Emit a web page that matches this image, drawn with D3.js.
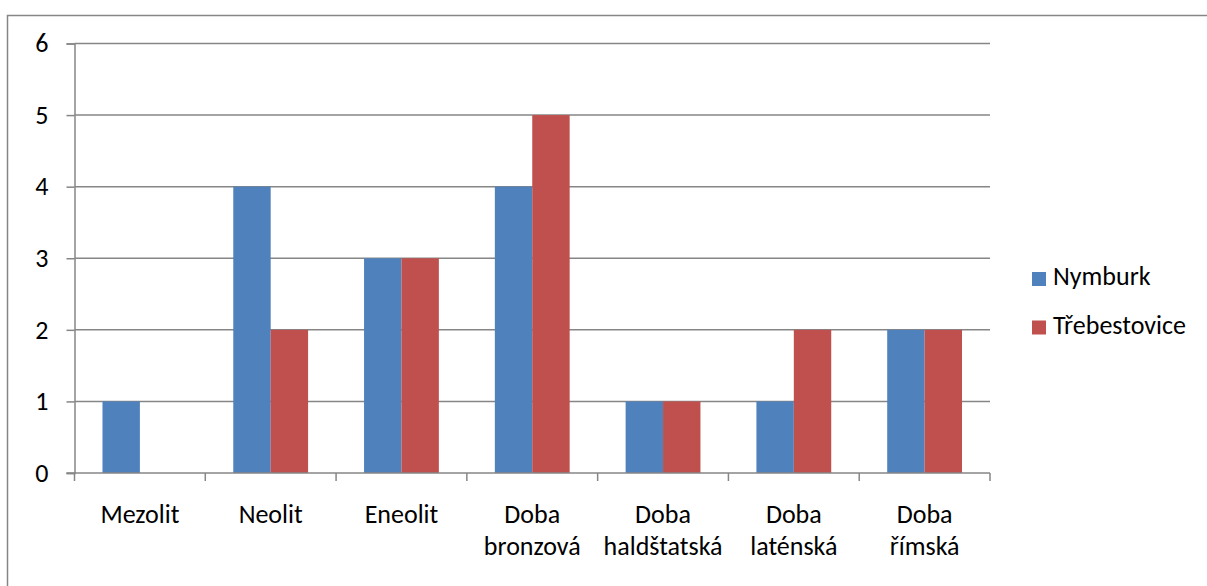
<!DOCTYPE html>
<html>
<head>
<meta charset="utf-8">
<script src="https://cdn.jsdelivr.net/npm/d3@7"></script>
<style>
  html, body { margin: 0; padding: 0; background: #fff; }
  svg { display: block; }
  text { font-family: Carlito, Calibri, Lato, "Liberation Sans", sans-serif; font-weight: 300; fill: #000; }
</style>
</head>
<body>
<svg id="chart" width="1207" height="586"></svg>
<script>
const categories = [
  ["Mezolit"],
  ["Neolit"],
  ["Eneolit"],
  ["Doba", "bronzová"],
  ["Doba", "haldštatská"],
  ["Doba", "laténská"],
  ["Doba", "římská"]
];
const seriesNames = ["Nymburk", "Třebestovice"];
const nymburk = [1, 4, 3, 4, 1, 1, 2];
const trebestovice = [0, 2, 3, 5, 1, 2, 2];
const yTicks = [0, 1, 2, 3, 4, 5, 6];
const colors = ["#4F81BD", "#C0504D"];

const svg = d3.select("#chart");
const pLeft = 74.5, pRight = 990, pTop = 43.5, pBottom = 473;
const FS = 26;

// outer border
svg.append("rect")
  .attr("x", 7.5).attr("y", 15.5)
  .attr("width", 1210).attr("height", 620)
  .attr("fill", "none").attr("stroke", "#868686").attr("stroke-width", 1.5);

const catKeys = categories.map(c => c.join(" "));
const x0 = d3.scaleBand().domain(catKeys).range([pLeft, pRight])
  .paddingInner(0.428).paddingOuter(0.214);
const x1 = d3.scaleBand().domain(seriesNames).range([0, x0.bandwidth()]).padding(0);
const y = d3.scaleLinear().domain([0, 6]).range([pBottom, pTop]);

// gridlines
svg.append("g").selectAll("line").data(yTicks.filter(d => d > 0)).join("line")
  .attr("x1", pLeft).attr("x2", pRight)
  .attr("y1", d => y(d)).attr("y2", d => y(d))
  .attr("stroke", "#868686").attr("stroke-width", 1.5);

// y axis
const yAxis = d3.axisLeft(y).tickValues(yTicks).tickSize(8).tickPadding(18).tickFormat(d3.format("d"));
const gy = svg.append("g").attr("transform", `translate(${pLeft},0)`).call(yAxis);
gy.select(".domain").attr("stroke", "#868686").attr("stroke-width", 1.5);
gy.selectAll(".tick line").attr("stroke", "#868686").attr("stroke-width", 1.5);
gy.selectAll(".tick text").attr("font-size", FS).attr("fill", "#000");
gy.attr("font-family", null).attr("font-size", null);

// bars
const data = catKeys.map((k, i) => ({ key: k, vals: [nymburk[i], trebestovice[i]] }));
const groups = svg.append("g").selectAll("g").data(data).join("g")
  .attr("transform", d => `translate(${x0(d.key)},0)`);
groups.selectAll("rect").data(d => d.vals.map((v, j) => ({ name: seriesNames[j], v, j })))
  .join("rect")
  .attr("x", d => x1(d.name))
  .attr("width", x1.bandwidth())
  .attr("y", d => y(d.v))
  .attr("height", d => y(0) - y(d.v))
  .attr("fill", d => colors[d.j]);

// x axis
const step = x0.step();
const boundaries = d3.range(categories.length + 1).map(i => pLeft + i * step);
const gx = svg.append("g");
gx.append("line").attr("x1", pLeft - 8).attr("x2", pRight)
  .attr("y1", pBottom).attr("y2", pBottom)
  .attr("stroke", "#868686").attr("stroke-width", 1.5);
gx.selectAll("line.tk").data(boundaries).join("line").attr("class", "tk")
  .attr("x1", d => d).attr("x2", d => d)
  .attr("y1", pBottom).attr("y2", pBottom + 8)
  .attr("stroke", "#868686").attr("stroke-width", 1.5);
const labels = gx.selectAll("text").data(categories).join("text")
  .attr("x", (d, i) => x0(catKeys[i]) + x0.bandwidth() / 2)
  .attr("y", 523)
  .attr("text-anchor", "middle")
  .attr("font-size", FS);
labels.selectAll("tspan").data(d => d).join("tspan")
  .attr("x", function() { return this.parentNode.getAttribute("x"); })
  .attr("dy", (d, i) => i === 0 ? 0 : 32)
  .text(d => d);

// legend
const lg = svg.append("g").selectAll("g").data(seriesNames).join("g")
  .attr("transform", (d, i) => `translate(1032, ${272 + i * 48.5})`);
lg.append("rect").attr("width", 14).attr("height", 14).attr("fill", (d, i) => colors[i]);
lg.append("text").attr("x", 21).attr("y", 13).attr("font-size", FS).text(d => d);
</script>
</body>
</html>
